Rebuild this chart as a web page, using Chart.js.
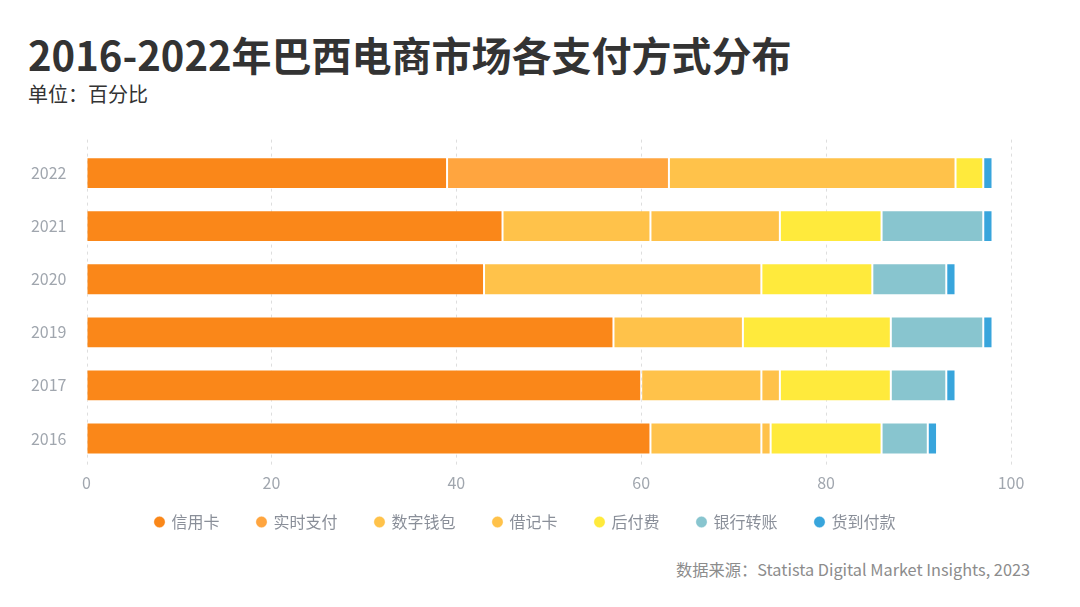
<!DOCTYPE html>
<html><head><meta charset="utf-8">
<script src="https://cdn.jsdelivr.net/npm/chart.js@4.4.1/dist/chart.umd.min.js"></script>
<style>
html,body{margin:0;padding:0}
body{width:1080px;height:607px;background:#fff;overflow:hidden;font-family:"Noto Sans CJK SC",sans-serif;position:relative}
#title{position:absolute;left:28px;top:34px;font-size:40px;font-weight:700;color:#333;line-height:1;white-space:nowrap}
#sub{position:absolute;left:28px;top:84px;font-size:20px;color:#333;line-height:1;white-space:nowrap}
#src{position:absolute;right:50px;top:561px;font-size:16.3px;color:#8c8c8c;line-height:1;white-space:nowrap}
#wrap{position:absolute;left:0;top:117px;width:1080px;height:440px}
</style></head>
<body>
<div id="title">2016-2022年巴西电商市场各支付方式分布</div>
<div id="sub">单位：百分比</div>
<div id="wrap"><canvas id="c"></canvas></div>
<div id="src">数据来源：Statista Digital Market Insights, 2023</div>
<script>
const categories = ['2022','2021','2020','2019','2017','2016'];
const seriesNames = ['信用卡','实时支付','数字钱包','借记卡','后付费','银行转账','货到付款'];
const creditCard    = [39, 45, 43, 57, 60, 61];
const realTimePay   = [24,  0,  0,  0,  0,  0];
const digitalWallet = [31, 16, 30, 14, 13, 12];
const debitCard     = [ 0, 14,  0,  0,  2,  1];
const buyNowPayLater= [ 3, 11, 12, 16, 12, 12];
const bankTransfer  = [ 0, 11,  8, 10,  6,  5];
const cashOnDelivery= [ 1,  1,  1,  1,  1,  1];
const xTicks = [0, 20, 40, 60, 80, 100];

const colors = ['#FA8719','#FFA53F','#FFC24A','#FFC24A','#FFEA3C','#88C5CF','#38A5DC'];
const values = [creditCard, realTimePay, digitalWallet, debitCard, buyNowPayLater, bankTransfer, cashOnDelivery];

const datasets = seriesNames.map((n,i)=>({
  label:n, data:values[i], backgroundColor:colors[i],
  borderColor:'rgba(255,255,255,0.35)', borderWidth:1, borderSkipped:false,
  barPercentage:0.6, categoryPercentage:1, pointStyle:'circle'
}));

Chart.defaults.font.family = '"Noto Sans CJK SC", sans-serif';
new Chart(document.getElementById('c'), {
  type:'bar',
  data:{labels:categories, datasets},
  options:{
    indexAxis:'y', responsive:true, maintainAspectRatio:false, animation:false,
    devicePixelRatio:1,
    layout:{padding:{top:0,bottom:0,left:0,right:69}},
    plugins:{
      legend:{position:'bottom', labels:{usePointStyle:true, boxWidth:8, boxHeight:8, padding:38, color:'#8a8f99', font:{size:16}}},
      tooltip:{enabled:false}
    },
    scales:{
      x:{stacked:true, min:0, max:100,
        afterBuildTicks:(s)=>{ s.ticks = xTicks.map(v=>({value:v})); },
        afterFit:(s)=>{ s.height = 28; },
        border:{display:false},
        grid:{display:false, drawTicks:false},
        ticks:{color:'#a0a6ae', font:{size:16}, padding:8}
      },
      y:{stacked:true,
        afterFit:(s)=>{ s.width = 86.5; },
        border:{display:false},
        grid:{display:false, drawTicks:false},
        ticks:{color:'#a0a6ae', font:{size:16}, padding:20}
      }
    }
  },
  plugins:[{
    id:'tweaks',
    afterLayout(chart){
      const lg = chart.legend;
      if(lg){ lg.top -= 17; lg.bottom -= 17; lg.left += 20; lg.right += 20; }
    },
    beforeDraw(chart){
      const x = chart.scales.x, a = chart.chartArea, ctx = chart.ctx;
      ctx.save();
      ctx.strokeStyle='#dedede'; ctx.lineWidth=1; ctx.setLineDash([3,4]);
      x.ticks.forEach(t=>{
        const px = Math.round(x.getPixelForValue(t.value))+0.5;
        ctx.beginPath(); ctx.moveTo(px, a.top-7); ctx.lineTo(px, a.bottom+3); ctx.stroke();
      });
      ctx.restore();
    }
  }]
});
</script>
</body></html>
